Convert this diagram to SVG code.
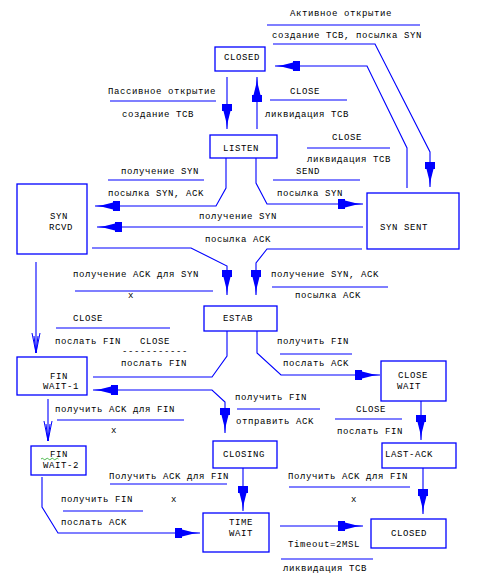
<svg xmlns="http://www.w3.org/2000/svg" width="480" height="576" viewBox="0 0 480 576">
<style>
text{font-family:"Liberation Mono","DejaVu Sans Mono",monospace;font-size:9px;letter-spacing:0.6px;fill:#000}
.box{fill:#fff;stroke:#0000ff;stroke-width:1.3}
.c{fill:none;stroke:#0000ff;stroke-width:1.1}
.bar{stroke:#0000ff;stroke-width:1.1}
</style>
<defs>
<marker id="a" viewBox="0 0 25 10" refX="25" refY="5" markerWidth="25" markerHeight="10" markerUnits="userSpaceOnUse" orient="auto-start-reverse">
<path d="M0,0 L7,0 L7,1.5 L17,4 L25,5 L17,6 L7,8.5 L7,10 L0,10 Z" fill="#0000ff"/>
</marker>
<marker id="v" viewBox="0 0 20 10" refX="20" refY="5" markerWidth="20" markerHeight="10" markerUnits="userSpaceOnUse" orient="auto">
<path d="M0,1 L20,5 L0,9 M3,3 L20,5 L3,7" fill="none" stroke="#0000ff" stroke-width="1"/>
</marker>
</defs>
<rect width="480" height="576" fill="#fff"/>

<g id="connectors">
<path class="c" d="M227,77 V129" marker-end="url(#a)"/>
<path class="c" d="M257,129 V77" marker-end="url(#a)"/>
<path class="c" d="M407,188 V148 L367,66 H275" marker-end="url(#a)"/>
<path class="c" d="M273,44 H375 L430,152 V187" marker-end="url(#a)"/>
<path class="c" d="M226,158 V188 L216,206 H95" marker-end="url(#a)"/>
<path class="c" d="M256,158 V183 L267,204 H363" marker-end="url(#a)"/>
<path class="c" d="M363,227 H97" marker-end="url(#a)"/>
<path class="c" d="M92,248 H191 L227,266 V295" marker-end="url(#a)"/>
<path class="c" d="M362,249 H267 L256,263 V295" marker-end="url(#a)"/>
<path class="c" d="M36,262 V353" marker-end="url(#v)"/>
<path class="c" d="M227,331 V356 L212,377 H93"/>
<path class="c" d="M257,331 V353 L281,375 H380" marker-end="url(#a)"/>
<path class="c" d="M93,390 H212 L225,402 V433" marker-start="url(#a)" marker-end="url(#a)"/>
<path class="c" d="M48,399 V441" marker-end="url(#v)"/>
<path class="c" d="M421,401 V440" marker-end="url(#a)"/>
<path class="c" d="M243,468 V511" marker-end="url(#a)"/>
<path class="c" d="M423,468 V514" marker-end="url(#a)"/>
<path class="c" d="M42,477 V507 L58,533 H200" marker-end="url(#a)"/>
<path class="c" d="M280,526 H363" marker-end="url(#a)"/>
</g>

<g id="label-bars">
<line class="bar" x1="267" y1="25" x2="420" y2="25"/>
<line class="bar" x1="110" y1="101" x2="216" y2="101"/>
<line class="bar" x1="270" y1="100" x2="347" y2="100"/>
<line class="bar" x1="307" y1="148" x2="390" y2="148"/>
<line class="bar" x1="108" y1="180" x2="204" y2="180"/>
<line class="bar" x1="273" y1="180" x2="360" y2="180"/>
<line class="bar" x1="75" y1="291" x2="213" y2="291"/>
<line class="bar" x1="272" y1="287" x2="388" y2="287"/>
<line class="bar" x1="56" y1="328" x2="170" y2="328"/>
<line class="bar" x1="280" y1="354" x2="352" y2="354"/>
<line class="bar" x1="237" y1="409" x2="320" y2="409"/>
<line class="bar" x1="335" y1="419" x2="402" y2="419"/>
<line class="bar" x1="57" y1="420" x2="184" y2="420"/>
<line class="bar" x1="110" y1="484" x2="227" y2="484"/>
<line class="bar" x1="289" y1="487" x2="410" y2="487"/>
<line class="bar" x1="63" y1="511" x2="143" y2="511"/>
<line class="bar" x1="281" y1="559" x2="373" y2="559"/>
</g>

<g id="labels">
<text x="290" y="16">Активное открытие</text>
<text x="272" y="38">создание TCB, посылка SYN</text>
<text x="108" y="94">Пассивное открытие</text>
<text x="290" y="94">CLOSE</text>
<text x="122" y="117">создание TCB</text>
<text x="265" y="117">ликвидация TCB</text>
<text x="332" y="140">CLOSE</text>
<text x="307" y="162">ликвидация TCB</text>
<text x="121" y="174">получение SYN</text>
<text x="296" y="174">SEND</text>
<text x="108" y="196">посылка SYN, ACK</text>
<text x="277" y="196">посылка SYN</text>
<text x="199" y="219">получение SYN</text>
<text x="205" y="242">посылка ACK</text>
<text x="73" y="277">получение ACK для SYN</text>
<text x="271" y="277">получение SYN, ACK</text>
<text x="128" y="298">x</text>
<text x="295" y="298">посылка ACK</text>
<text x="73" y="321">CLOSE</text>
<text x="55" y="344">послать FIN</text>
<text x="140" y="344">CLOSE</text>
<text x="277" y="344">получить FIN</text>
<text x="122" y="354">-----------</text>
<text x="121" y="366">послать FIN</text>
<text x="283" y="366">послать ACK</text>
<text x="235" y="400">получить FIN</text>
<text x="55" y="412">получить ACK для FIN</text>
<text x="356" y="412">CLOSE</text>
<text x="236" y="424">отправить ACK</text>
<text x="111" y="433">x</text>
<text x="337" y="434">послать FIN</text>
<text x="109" y="479">Получить ACK для FIN</text>
<text x="288" y="479">Получить ACK для FIN</text>
<text x="61" y="502">получить FIN</text>
<text x="171" y="502">x</text>
<text x="351" y="502">x</text>
<text x="61" y="525">послать ACK</text>
<text x="288" y="547">Timeout=2MSL</text>
<text x="283" y="571">ликвидация TCB</text>
</g>

<g id="closed-top"><rect class="box" x="215" y="47" width="50" height="24"/><text x="224" y="60">CLOSED</text></g>
<g id="listen"><rect class="box" x="210" y="135" width="67" height="23"/><text x="223" y="151">LISTEN</text></g>
<g id="syn-rcvd"><rect class="box" x="17" y="184" width="70" height="70"/><text x="50" y="219">SYN</text><text x="49" y="230">RCVD</text></g>
<g id="syn-sent"><rect class="box" x="367" y="193" width="92" height="56"/><text x="380" y="230">SYN SENT</text></g>
<g id="estab"><rect class="box" x="204" y="306" width="73" height="25"/><text x="223" y="321">ESTAB</text></g>
<g id="fin-wait-1"><rect class="box" x="17" y="357" width="70" height="38"/><text x="50" y="379">FIN</text><text x="43" y="389">WAIT-1</text></g>
<g id="close-wait"><rect class="box" x="381" y="361" width="65" height="40"/><text x="398" y="378">CLOSE</text><text x="397" y="389">WAIT</text></g>
<g id="fin-wait-2"><rect class="box" x="31" y="446" width="55" height="29"/><text x="50" y="457">FIN</text><text x="43" y="468">WAIT-2</text><path d="M41,459 q1.25,-1.5 2.5,0 t2.5,0 t2.5,0 t2.5,0 t2.5,0 t2.5,0 t2.5,0" fill="none" stroke="#22aa22" stroke-width="0.8"/></g>
<g id="closing"><rect class="box" x="213" y="441" width="64" height="27"/><text x="223" y="457">CLOSING</text></g>
<g id="last-ack"><rect class="box" x="382" y="443" width="74" height="25"/><text x="385" y="457">LAST-ACK</text></g>
<g id="time-wait"><rect class="box" x="203" y="513" width="66" height="39"/><text x="229" y="525">TIME</text><text x="229" y="536">WAIT</text></g>
<g id="closed-bottom"><rect class="box" x="371" y="519" width="75" height="29"/><text x="391" y="536">CLOSED</text></g>
</svg>
